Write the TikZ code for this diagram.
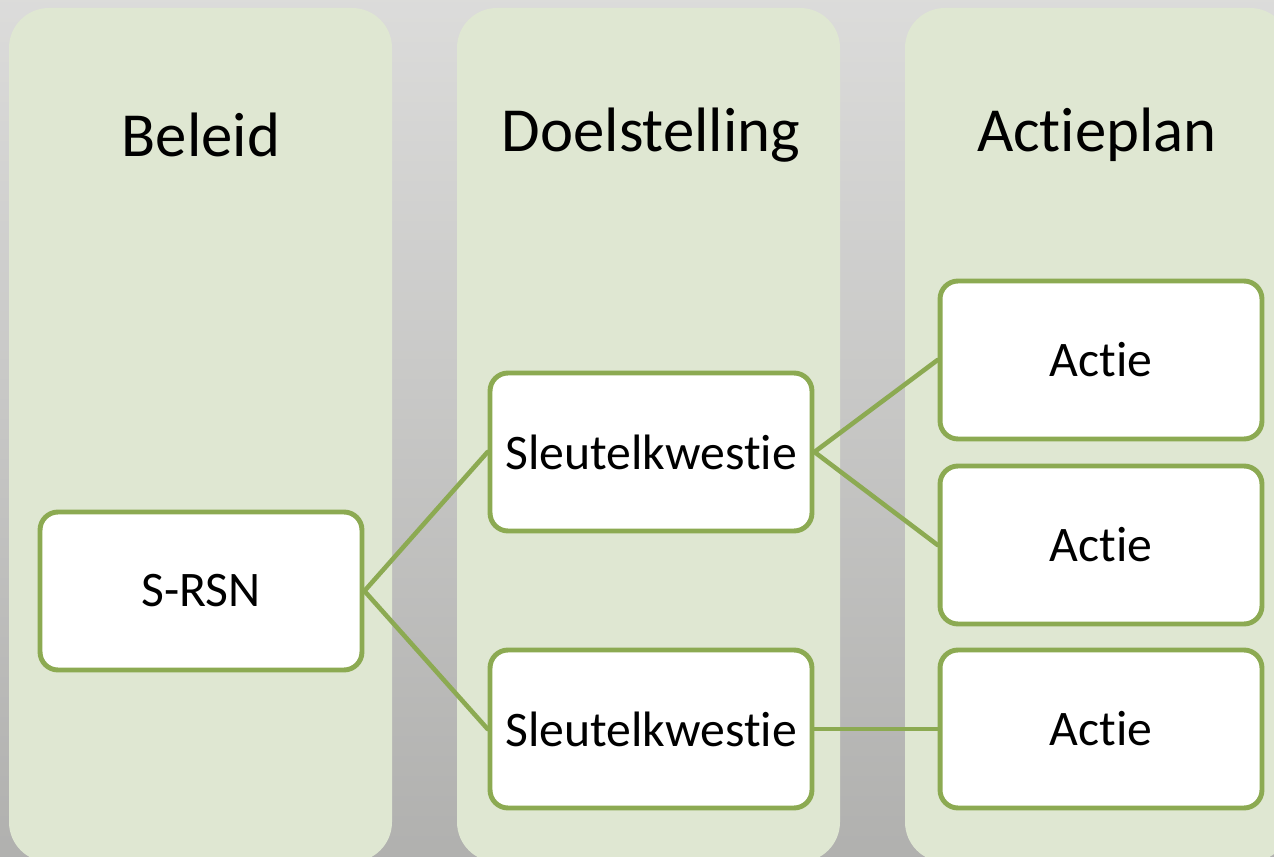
\documentclass[tikz,border=0pt]{standalone}
\usepackage{fontspec}
\setmainfont[Ligatures=NoCommon]{Carlito}
\definecolor{olijf}{HTML}{8CAA52}
\definecolor{kolomgroen}{HTML}{DFE7D2}
\definecolor{fotogrijs}{HTML}{C4C4C2}
\tikzset{
  kolom/.style={fill=kolomgroen, draw=none, rounded corners=0.8cm},
  kop/.style={font=\fontsize{35.7}{40}\selectfont},
  vak/.style={draw=olijf, line width=2.8pt, fill=white, rounded corners=0.36cm,
    minimum width=6.44cm, minimum height=3.16cm, inner sep=0pt,
    font=\fontsize{28.3}{32}\selectfont},
  tak/.style={draw=olijf, line width=2.6pt}
}
\begin{document}
\begin{tikzpicture}[x=0.02cm, y=-0.02cm, line cap=round, line join=round]
              % achtergrond (luchtfoto)
              \useasboundingbox (0,0) rectangle (1274,857);
              \shade[top color=fotogrijs!60!white, bottom color=fotogrijs!90!black] (0,0) rectangle (1274,857);

              % kolommen
              \path[kolom] (9,8) rectangle (392,862);
              \path[kolom] (457,8) rectangle (840,862);
              \path[kolom] (905,8) rectangle (1290,862);

              \node[kop] (beleid) at (201,135) {Beleid};
              \node[kop] (doel) at (651,135) {Doelstelling};
              \node[kop] (plan) at (1097,135) {Actieplan};

              % vakken
              \node[vak] (srsn) at (201,591) {S-RSN};
              \node[vak] (sk1) at (651,452) {Sleutelkwestie};
              \node[vak] (sk2) at (651,729) {Sleutelkwestie};
              \node[vak] (actie1) at (1101,360) {Actie};
              \node[vak] (actie2) at (1101,545) {Actie};
              \node[vak] (actie3) at (1101,729) {Actie};

              % takken
              \draw[tak] (srsn.east) -- (sk1.west);
              \draw[tak] (srsn.east) -- (sk2.west);
              \draw[tak] (sk1.east) -- (actie1.west);
              \draw[tak] (sk1.east) -- (actie2.west);
              \draw[tak] (sk2.east) -- (actie3.west);
            \end{tikzpicture}
\end{document}
